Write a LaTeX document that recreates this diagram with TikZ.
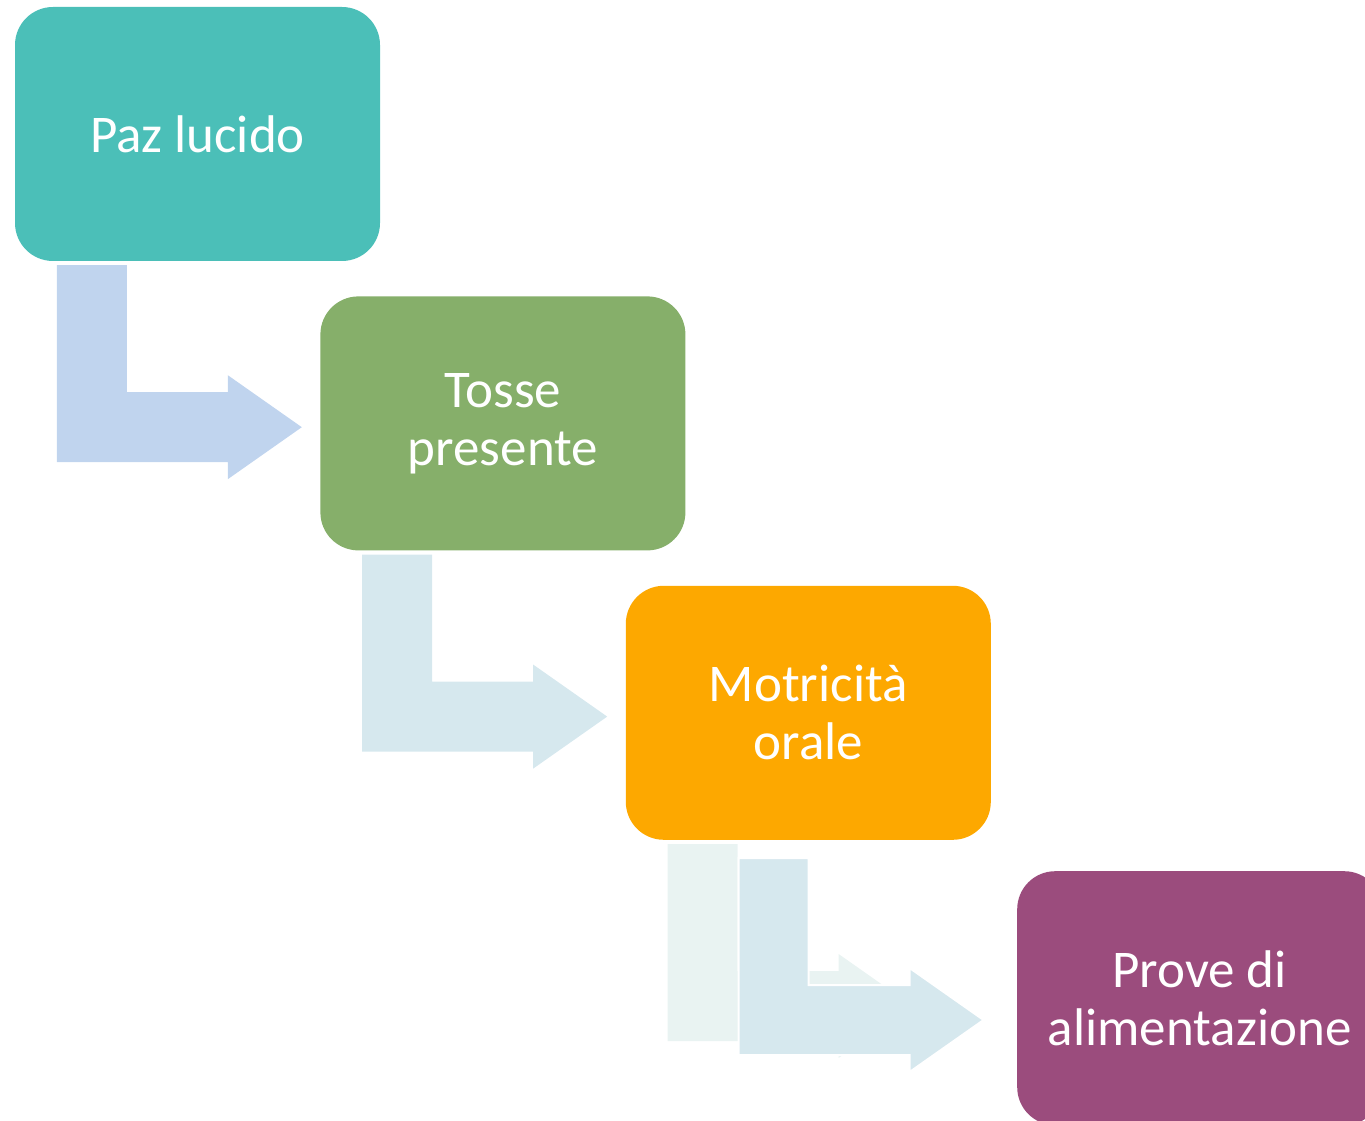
\documentclass[tikz,border=0pt]{standalone}
\usepackage{fontspec}
\setmainfont{Carlito}
\definecolor{sgTeal}{RGB}{75,191,184}
\definecolor{sgGreen}{RGB}{134,175,106}
\definecolor{sgOrange}{RGB}{253,168,0}
\definecolor{sgPurple}{RGB}{155,76,125}
\definecolor{sgArrowA}{RGB}{192,212,238}
\definecolor{sgArrowB}{RGB}{214,232,238}
\definecolor{sgGhost}{RGB}{233,243,242}
\usetikzlibrary{positioning,calc}

\begin{document}
\begin{tikzpicture}[x=1pt,y=1pt,
    stage/.style={rounded corners=38pt, minimum width=365pt, minimum height=254pt,
        inner sep=0pt, text=white, align=center, font=\fontsize{53}{58}\selectfont}]
    \clip (0,0) rectangle (1365,1120);

    % Steps
    \node[stage, fill=sgTeal] (paz) at (197.5,986) {Paz lucido};
    \node[stage, fill=sgGreen, below right=35pt and -60pt of paz] (tosse) {Tosse\\presente};
    \node[stage, fill=sgOrange, below right=35pt and -60pt of tosse] (motr) {Motricità\\orale};
    \node[stage, fill=sgPurple, below right=31pt and 26pt of motr] (prove) {Prove di\\alimentazione};

    % Bent arrows under each step
    \foreach \from/\col in {paz/sgArrowA, tosse/sgArrowB, motr/sgGhost}
        \fill[\col] ($(\from.south west)+(42,-4)$) -- ++(70,0) -- ++(0,-127) -- ++(101,0)
            -- ++(0,17) -- ++(74,-52) -- ++(-74,-52) -- ++(0,17) -- ++(-171,0) -- cycle;

    % last arrow, moved out of place
    \filldraw[fill=sgArrowB, draw=white, line width=2pt]
        ($(motr.south west)+(113,-18)$) -- ++(70,0) -- ++(0,-127) -- ++(101,0)
            -- ++(0,17) -- ++(74,-52) -- ++(-74,-52) -- ++(0,17) -- ++(-171,0) -- cycle;
\end{tikzpicture}
\end{document}
